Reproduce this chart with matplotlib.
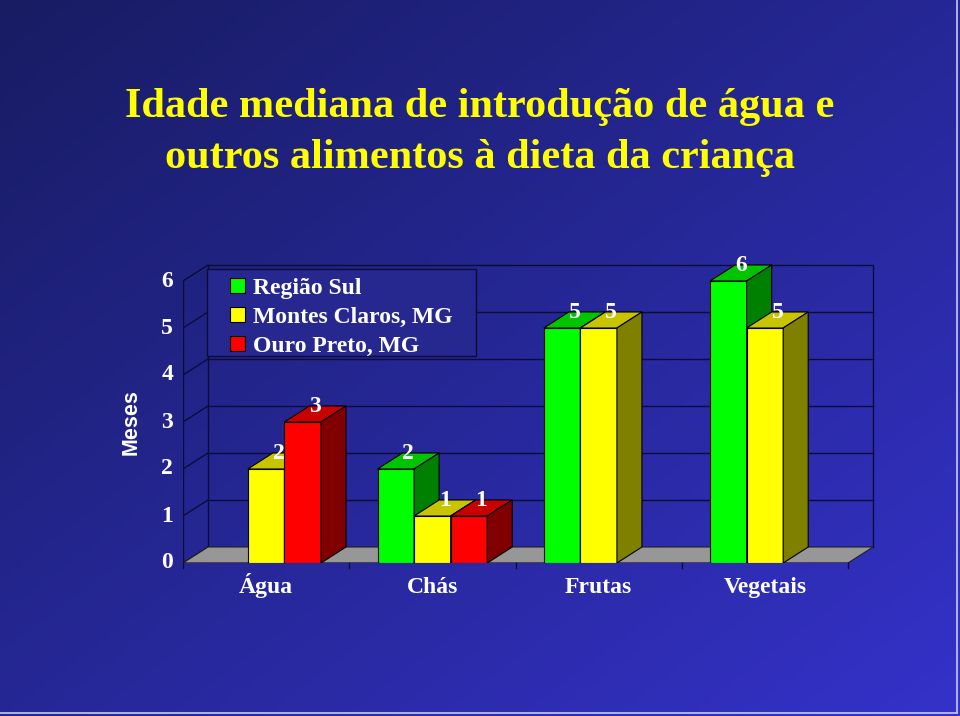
import numpy as np
import matplotlib
matplotlib.use('Agg')
import matplotlib.pyplot as plt
from matplotlib.patches import Polygon, Patch, Rectangle

# data
categories = ['Água', 'Chás', 'Frutas', 'Vegetais']
series_names = ['Região Sul', 'Montes Claros, MG', 'Ouro Preto, MG']
regiao_sul = [np.nan, 2, 5, 6]
montes_claros = [2, 1, 5, 5]
ouro_preto = [3, 1, np.nan, np.nan]
y_ticks = [0, 1, 2, 3, 4, 5, 6]

series = [regiao_sul, montes_claros, ouro_preto]
front_cols = ['#00ff00', '#ffff00', '#ff0000']
top_cols = ['#00c400', '#c8c400', '#c80000']
side_cols = ['#008000', '#808000', '#800000']

serif = 'Liberation Serif'
fs = 17

fig = plt.figure(figsize=(9.6, 7.16), dpi=100)

# gradient background
bg = fig.add_axes([0, 0, 1, 1], zorder=-5)
H, W = 358, 480
yy, xx = np.mgrid[0:H, 0:W]
t = 0.5 * xx / W + 0.5 * yy / H
c0 = np.array([24, 28, 98]) / 255
c1 = np.array([52, 50, 202]) / 255
img = c0[None, None, :] + t[:, :, None] * (c1 - c0)[None, None, :]
bg.imshow(img, aspect='auto', extent=[0, 1, 0, 1], origin='upper')
bg.set_xlim(0, 1)
bg.set_ylim(0, 1)
bg.axis('off')
bg.plot([0.997, 0.997], [0.004, 1], color='#c8c8f0', lw=1.2)
bg.plot([0, 0.997], [0.004, 0.004], color='#c8c8f0', lw=1.2)

# title
fig.text(0.5, 0.8366, 'Idade mediana de introdução de água e', ha='center', va='baseline',
         color='#ffff00', fontsize=30.4, fontweight='bold', family=serif)
fig.text(0.5, 0.7655, 'outros alimentos à dieta da criança', ha='center', va='baseline',
         color='#ffff00', fontsize=30.4, fontweight='bold', family=serif)

# main axes (pixel-matched)
ax = fig.add_axes([183 / 960, (716 - 563) / 716, 706.6 / 960, 310.2 / 716])
ax.set_xlim(-0.5, 3.75)
ax.set_ylim(0, 6.6)
ax.patch.set_alpha(0)
for s in ax.spines.values():
    s.set_visible(False)

dx = 25 / 166.25   # depth offset in data units
dy = 16 / 47
x0, x1 = -0.5, 3.5
line_col = '#0c0c38'

# back wall + gridlines
ax.plot([x0 + dx, x0 + dx, x1 + dx, x1 + dx], [dy, 6 + dy, 6 + dy, dy], color=line_col, lw=1, zorder=1)
for k in y_ticks[1:-1]:
    ax.plot([x0 + dx, x1 + dx], [k + dy, k + dy], color=line_col, lw=1, zorder=1)
# left side wall ticks
for k in y_ticks:
    ax.plot([x0, x0 + dx], [k, k + dy], color=line_col, lw=1, zorder=1)
ax.plot([x0, x0], [0, 6], color=line_col, lw=1, zorder=1)

# floor
floor = Polygon([[x0, 0], [x1, 0], [x1 + dx, dy], [x0 + dx, dy]], closed=True,
                facecolor='#979797', edgecolor='#202020', lw=0.8, zorder=2)
ax.add_patch(floor)
for b in np.arange(x0, x1 + 0.01, 1.0):
    ax.plot([b, b], [0, -0.11], color=line_col, lw=1, zorder=2, clip_on=False)
ax.plot([x0, x1], [0, 0], color=line_col, lw=1, zorder=2)

# bars
bw = 0.22
offsets = [-bw, 0, bw]
z = 3
for ci in range(len(categories)):
    for si, vals in enumerate(series):
        v = vals[ci]
        if np.isnan(v):
            continue
        xl = ci + offsets[si] - bw / 2
        xr = xl + bw
        ax.bar(xl, v, width=bw, align='edge', color=front_cols[si], edgecolor='black', lw=0.8, zorder=z)
        top = Polygon([[xl, v], [xr, v], [xr + dx, v + dy], [xl + dx, v + dy]], closed=True,
                      facecolor=top_cols[si], edgecolor='black', lw=0.8, zorder=z)
        side = Polygon([[xr, 0], [xr, v], [xr + dx, v + dy], [xr + dx, dy]], closed=True,
                       facecolor=side_cols[si], edgecolor='black', lw=0.8, zorder=z)
        ax.add_patch(top)
        ax.add_patch(side)
        ax.text(ci + offsets[si] + dx / 2, v + dy - 0.02, '%d' % v, ha='center', va='center',
                color='white', fontsize=fs, fontweight='bold', family=serif, zorder=20)
        z += 1

# axis labels
for k in y_ticks:
    ax.text(x0 - 0.06, k, str(k), ha='right', va='center', color='white',
            fontsize=fs, fontweight='bold', family=serif)
for ci, c in enumerate(categories):
    ax.text(ci, -0.64, c, ha='center', va='baseline', color='white',
            fontsize=fs, fontweight='bold', family=serif)
ax.text(-0.81, 3.0, 'Meses', rotation=90, ha='center', va='center', color='white',
        fontsize=15.5, fontweight='bold', family='Liberation Sans')
ax.set_xticks([])
ax.set_yticks([])

# legend frame drawn separately (wider side padding than top/bottom)
ax.add_patch(Rectangle((-0.356, 4.404), 1.618, 1.851, facecolor='#262890',
                       edgecolor=line_col, lw=1, zorder=9))
handles = [Patch(facecolor=front_cols[i], edgecolor='black', lw=0.8) for i in range(3)]
leg = ax.legend(handles, series_names, loc='upper left', bbox_to_anchor=(-0.2173, 6.07),
                bbox_transform=ax.transData, borderaxespad=0, frameon=False,
                handlelength=0.65, handleheight=0.65, handletextpad=0.34, labelspacing=0.33,
                borderpad=0, prop={'family': serif, 'weight': 'bold', 'size': fs})
leg.set_zorder(10)
for txt in leg.get_texts():
    txt.set_color('white')

fig.savefig('out.png', dpi=100)
